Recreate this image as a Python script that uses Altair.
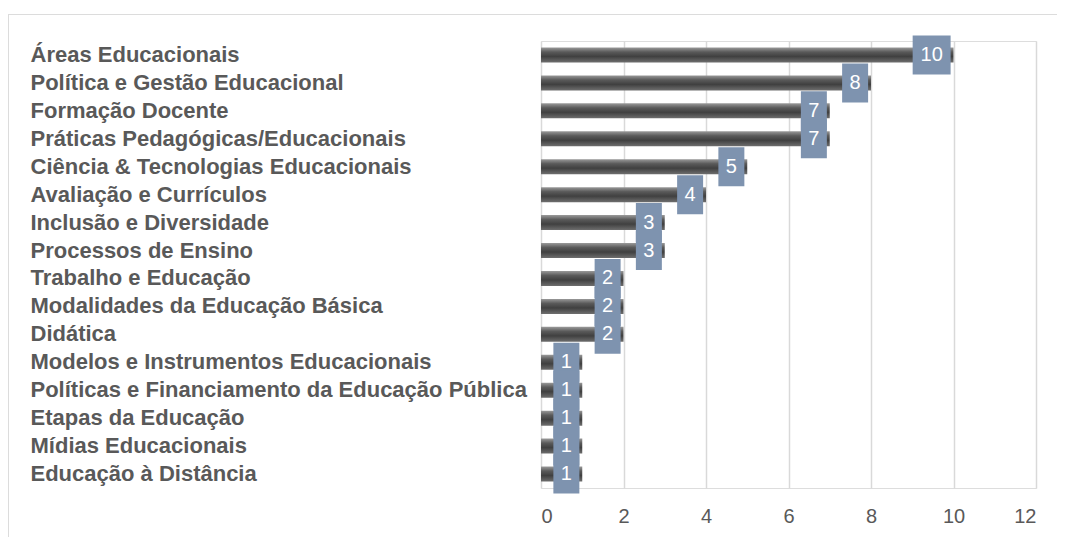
import altair as alt
import pandas as pd

categories = [
    "Áreas Educacionais",
    "Política e Gestão Educacional",
    "Formação Docente",
    "Práticas Pedagógicas/Educacionais",
    "Ciência & Tecnologias Educacionais",
    "Avaliação e Currículos",
    "Inclusão e Diversidade",
    "Processos de Ensino",
    "Trabalho e Educação",
    "Modalidades da Educação Básica",
    "Didática",
    "Modelos e Instrumentos Educacionais",
    "Políticas e Financiamento da Educação Pública",
    "Etapas da Educação",
    "Mídias Educacionais",
    "Educação à Distância",
]
values = [10, 8, 7, 7, 5, 4, 3, 3, 2, 2, 2, 1, 1, 1, 1, 1]
x_ticks = [0, 2, 4, 6, 8, 10, 12]

df = pd.DataFrame({"cat": categories, "val": values})

FONT = "Liberation Sans"
GRAY_TEXT = "#595959"
BOX = "#7E93AF"

y_enc = alt.Y(
    "cat:N",
    sort=categories,
    scale=alt.Scale(paddingInner=0, paddingOuter=0),
    axis=alt.Axis(
        title=None,
        labelAlign="left",
        labelPadding=511,
        labelFontSize=22,
        labelFontWeight="bold",
        labelFont=FONT,
        labelColor=GRAY_TEXT,
        labelLimit=700,
        ticks=False,
        tickSize=0,
        domain=False,
        grid=False,
    ),
)

x_scale = alt.Scale(domain=[0, 12], nice=False)
x_axis = alt.Axis(
    title=None,
    values=x_ticks,
    grid=True,
    gridColor="#D9D9D9",
    gridWidth=1.5,
    domain=False,
    ticks=False,
    labelFontSize=20,
    labelFont=FONT,
    labelColor=GRAY_TEXT,
    labelPadding=18,
)

grad = alt.Gradient(
    gradient="linear",
    stops=[
        alt.GradientStop(color="#9A9A9A", offset=0),
        alt.GradientStop(color="#5A5A5A", offset=0.3),
        alt.GradientStop(color="#404040", offset=0.6),
        alt.GradientStop(color="#6E6E6E", offset=1),
    ],
    x1=0, x2=0, y1=0, y2=1,
)

bars = alt.Chart(df).mark_bar(size=15, color=grad).encode(
    y=y_enc,
    x=alt.X("val:Q", scale=x_scale, axis=x_axis),
)

lab = alt.Chart(df).transform_calculate(
    w="datum.val >= 10 ? 0.92 : 0.63",
    bx2="datum.val - 0.07",
    bx="datum.val - 0.07 - datum.w",
    tx="datum.val - 0.07 - datum.w / 2",
    txt="'' + datum.val",
)

boxes = lab.mark_bar(size=39, color=BOX).encode(
    y=alt.Y("cat:N", sort=categories),
    x=alt.X("bx:Q", scale=x_scale),
    x2="bx2:Q",
)

texts = lab.mark_text(color="white", fontSize=20, font=FONT, align="center", baseline="middle").encode(
    y=alt.Y("cat:N", sort=categories),
    x=alt.X("tx:Q", scale=x_scale),
    text="txt:N",
)

frame_df = pd.DataFrame({"a": [0]})
frame_left = alt.Chart(frame_df).mark_rule(color="#DCDCDC", strokeWidth=1).encode(
    x=alt.value(-532.5), y=alt.value(-27), y2=alt.value(700)
)
frame_top = alt.Chart(frame_df).mark_rule(color="#DCDCDC", strokeWidth=1).encode(
    x=alt.value(-532.5), x2=alt.value(800), y=alt.value(-26.5)
)

chart = alt.layer(frame_left, frame_top, bars, boxes, texts).properties(
    width=495,
    height=447,
    autosize=alt.AutoSizeParams(type="none"),
    padding={"left": 533, "top": 33, "right": 21, "bottom": 49},
).configure_view(stroke=None).configure(background="white")

chart.save("out.html", embed_options={"renderer": "svg", "actions": False})
